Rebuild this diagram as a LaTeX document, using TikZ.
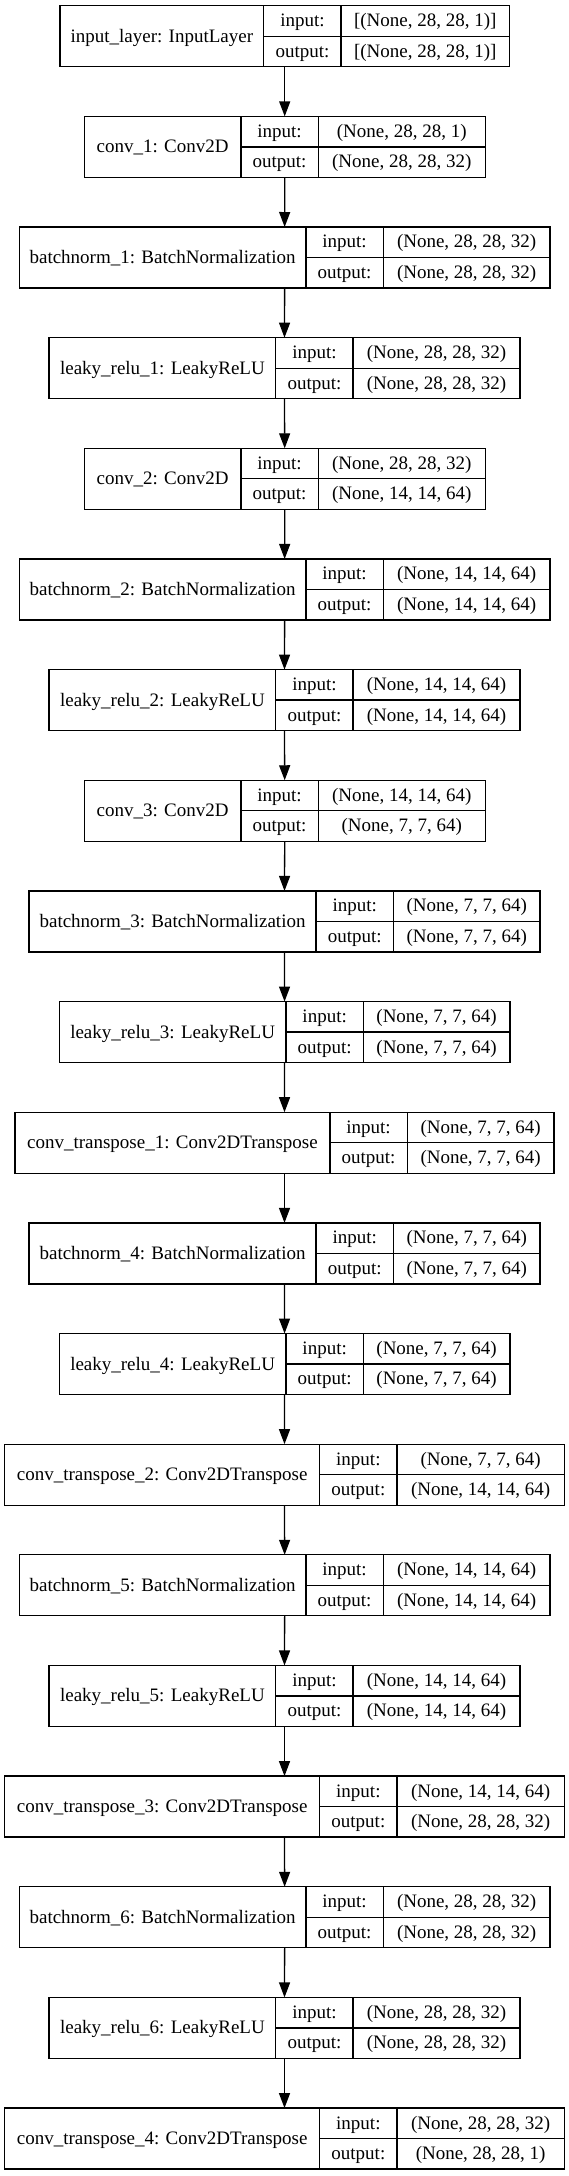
\documentclass[tikz,border=0pt]{standalone}
\usepackage{fontspec}
\setmainfont{Liberation Serif}
\usetikzlibrary{arrows.meta}
\tikzset{
  frame/.style={draw=black, line width=1.3pt, inner sep=0pt, outer sep=0pt, rectangle},
  divider/.style={draw=black, line width=1.3pt},
  lbl/.style={inner sep=0pt, anchor=base, font=\fontsize{19}{22}\selectfont},
  flow/.style={draw=black, line width=1.3pt, -{Triangle[length=15pt,width=11pt]}},
}
% geometries: left edge, first divider, second divider, right edge
\def\geomA{\def\gL{59.9}\def\gDa{263.8}\def\gDb{341.1}\def\gR{509.5}}
\def\geomB{\def\gL{84.2}\def\gDa{241.0}\def\gDb{318.2}\def\gR{485.2}}
\def\geomC{\def\gL{19.2}\def\gDa{305.9}\def\gDb{383.2}\def\gR{550.1}}
\def\geomD{\def\gL{49.0}\def\gDa{275.8}\def\gDb{353.1}\def\gR{520.0}}
\def\geomE{\def\gL{29.0}\def\gDa{316.1}\def\gDb{393.4}\def\gR{540.0}}
\def\geomF{\def\gL{59.2}\def\gDa{286.0}\def\gDb{363.3}\def\gR{509.9}}
\def\geomG{\def\gL{14.9}\def\gDa{329.9}\def\gDb{407.2}\def\gR{554.1}}
\def\geomH{\def\gL{4.7}\def\gDa{319.7}\def\gDb{397.0}\def\gR{564.3}}
% #1 node name, #2 index, #3 geometry, #4 title, #5 input shape, #6 output shape
\newcommand\kerasLayer[6]{%
  #3%
  \pgfmathsetmacro\lyT{5.7+110.65*#2}%
  \pgfmathsetmacro\lyM{\lyT+30.5}%
  \pgfmathsetmacro\lyB{\lyT+61}%
  \node[frame, minimum width={\gR-\gL}, minimum height=61] (#1) at ({(\gL+\gR)/2},\lyM) {};
  \draw[divider] (\gDa,\lyT) -- (\gDa,\lyB) (\gDb,\lyT) -- (\gDb,\lyB) (\gDa,\lyM) -- (\gR,\lyM);
  \node[lbl] (#1-title) at ({(\gL+\gDa)/2},{\lyM+6}) {#4};
  \node[lbl] (#1-inl) at ({(\gDa+\gDb)/2},{\lyT+15.25+5.7}) {input:};
  \node[lbl] (#1-outl) at ({(\gDa+\gDb)/2},{\lyT+45.75+5.7}) {output:};
  \node[lbl] (#1-inv) at ({(\gDb+\gR)/2},{\lyT+15.25+5.7}) {#5};
  \node[lbl] (#1-outv) at ({(\gDb+\gR)/2},{\lyT+45.75+5.7}) {#6};
}
\begin{document}
\begin{tikzpicture}[x=1pt,y=-1pt]
  \fill[white] (0,0) rectangle (569,2176);
  \useasboundingbox (0,0) rectangle (569,2176);
  \kerasLayer{l0}{0}{\geomA}{input\_layer: InputLayer}{[(None, 28, 28, 1)]}{[(None, 28, 28, 1)]}
  \kerasLayer{l1}{1}{\geomB}{conv\_1: Conv2D}{(None, 28, 28, 1)}{(None, 28, 28, 32)}
  \kerasLayer{l2}{2}{\geomC}{batchnorm\_1: BatchNormalization}{(None, 28, 28, 32)}{(None, 28, 28, 32)}
  \kerasLayer{l3}{3}{\geomD}{leaky\_relu\_1: LeakyReLU}{(None, 28, 28, 32)}{(None, 28, 28, 32)}
  \kerasLayer{l4}{4}{\geomB}{conv\_2: Conv2D}{(None, 28, 28, 32)}{(None, 14, 14, 64)}
  \kerasLayer{l5}{5}{\geomC}{batchnorm\_2: BatchNormalization}{(None, 14, 14, 64)}{(None, 14, 14, 64)}
  \kerasLayer{l6}{6}{\geomD}{leaky\_relu\_2: LeakyReLU}{(None, 14, 14, 64)}{(None, 14, 14, 64)}
  \kerasLayer{l7}{7}{\geomB}{conv\_3: Conv2D}{(None, 14, 14, 64)}{(None, 7, 7, 64)}
  \kerasLayer{l8}{8}{\geomE}{batchnorm\_3: BatchNormalization}{(None, 7, 7, 64)}{(None, 7, 7, 64)}
  \kerasLayer{l9}{9}{\geomF}{leaky\_relu\_3: LeakyReLU}{(None, 7, 7, 64)}{(None, 7, 7, 64)}
  \kerasLayer{l10}{10}{\geomG}{conv\_transpose\_1: Conv2DTranspose}{(None, 7, 7, 64)}{(None, 7, 7, 64)}
  \kerasLayer{l11}{11}{\geomE}{batchnorm\_4: BatchNormalization}{(None, 7, 7, 64)}{(None, 7, 7, 64)}
  \kerasLayer{l12}{12}{\geomF}{leaky\_relu\_4: LeakyReLU}{(None, 7, 7, 64)}{(None, 7, 7, 64)}
  \kerasLayer{l13}{13}{\geomH}{conv\_transpose\_2: Conv2DTranspose}{(None, 7, 7, 64)}{(None, 14, 14, 64)}
  \kerasLayer{l14}{14}{\geomC}{batchnorm\_5: BatchNormalization}{(None, 14, 14, 64)}{(None, 14, 14, 64)}
  \kerasLayer{l15}{15}{\geomD}{leaky\_relu\_5: LeakyReLU}{(None, 14, 14, 64)}{(None, 14, 14, 64)}
  \kerasLayer{l16}{16}{\geomH}{conv\_transpose\_3: Conv2DTranspose}{(None, 14, 14, 64)}{(None, 28, 28, 32)}
  \kerasLayer{l17}{17}{\geomC}{batchnorm\_6: BatchNormalization}{(None, 28, 28, 32)}{(None, 28, 28, 32)}
  \kerasLayer{l18}{18}{\geomD}{leaky\_relu\_6: LeakyReLU}{(None, 28, 28, 32)}{(None, 28, 28, 32)}
  \kerasLayer{l19}{19}{\geomH}{conv\_transpose\_4: Conv2DTranspose}{(None, 28, 28, 32)}{(None, 28, 28, 1)}
  \foreach \a [evaluate=\a as \b using int(\a+1)] in {0,...,18}
    \draw[flow] (l\a.south) -- (l\b.north);
\end{tikzpicture}
\end{document}
